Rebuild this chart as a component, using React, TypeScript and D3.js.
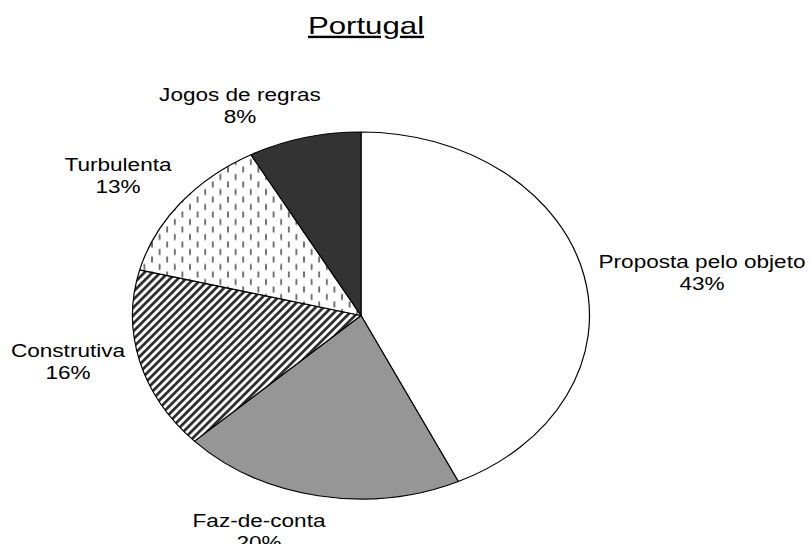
import React from "react";
import * as d3 from "d3";

const categories = ["Proposta pelo objeto", "Faz-de-conta", "Construtiva", "Turbulenta", "Jogos de regras"];
const values = [43, 20, 16, 13, 8];
const percentLabels = ["43%", "20%", "16%", "13%", "8%"];
const fills = ["#ffffff", "#969696", "url(#stripes)", "url(#dashes)", "#333333"];

// layout (screen pixels)
const W = 810;
const H = 544;
const CX = 361;
const CY = 315.5;
const RY = 183.5;
const RX = 228.5;
const SX = RX / RY;
const labelPos: [number, number][] = [
  [702, 268],
  [259, 527],
  [68, 357],
  [118, 170.5],
  [240, 101],
];
const LINE = 22.5;

export default function App() {
  const pie = d3.pie<number>().sort(null).value((d) => d).startAngle(0).endAngle(2 * Math.PI);
  const arcs = pie(values);
  const arc = d3.arc<d3.PieArcDatum<number>>().innerRadius(0).outerRadius(RY);
  const font = "'Liberation Sans', Arial, Helvetica, sans-serif";

  return (
    <svg width={W} height={H} style={{ position: "absolute", left: 0, top: 0, background: "#fff" }}>
      <defs>
        <pattern id="dashes" patternUnits="userSpaceOnUse" width={15.2} height={15} patternTransform={`scale(${1 / SX},1)`}>
          <rect x={0} y={0} width={15.2} height={15} fill="#fff" />
          <rect x={3} y={1} width={1.6} height={6} fill="#555" />
          <rect x={10.6} y={8.5} width={1.6} height={6} fill="#555" />
        </pattern>
        <pattern id="stripes" patternUnits="userSpaceOnUse" width={10} height={5.6} patternTransform={`scale(${1 / SX},1) rotate(-45)`}>
          <rect x={0} y={0} width={10} height={5.6} fill="#fff" />
          <rect x={0} y={0} width={10} height={2.7} fill="#2a2a2a" />
        </pattern>
      </defs>
      <rect x={0} y={0} width={W} height={H} fill="#fff" />

      <g transform={`translate(${CX},${CY}) scale(${SX},1)`}>
        {arcs.map((a, i) => (
          <path
            key={i}
            d={arc(a) || ""}
            fill={fills[i]}
            stroke="#000"
            strokeWidth={1.2}
            vectorEffect="non-scaling-stroke"
            strokeLinejoin="round"
          />
        ))}
      </g>

      <g transform={`translate(366,34) scale(1.3,1)`}>
        <text textAnchor="middle" fontFamily={font} fontSize={24} fill="#000" textDecoration="underline">
          Portugal
        </text>
      </g>

      {categories.map((c, i) => (
        <g key={c} transform={`translate(${labelPos[i][0]},${labelPos[i][1]}) scale(1.22,1)`}>
          <text textAnchor="middle" fontFamily={font} fontSize={18.5} fill="#000">
            <tspan x={0} y={0}>{c}</tspan>
            <tspan x={0} y={LINE}>{percentLabels[i]}</tspan>
          </text>
        </g>
      ))}
    </svg>
  );
}
